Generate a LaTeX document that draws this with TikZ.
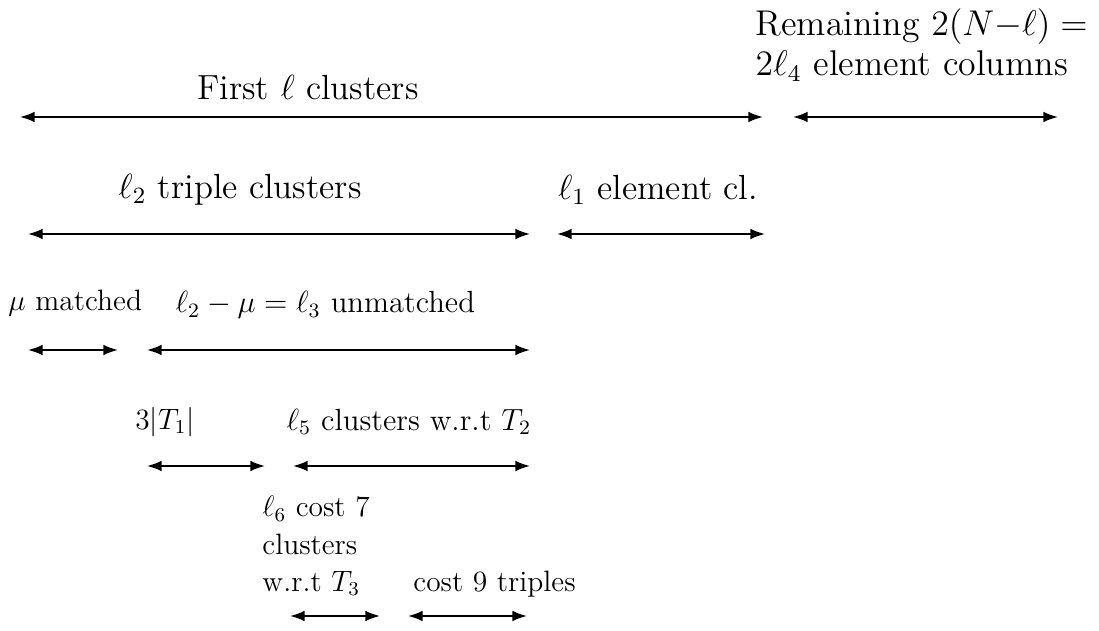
\documentclass[tikz,border=0pt]{standalone}
\usetikzlibrary{arrows.meta}
\begin{document}
\begin{tikzpicture}[x={(0.275pt,0)},y={(0,-0.275pt)},
  span/.style={{Latex[length=4pt,width=2.9pt]}-{Latex[length=4pt,width=2.9pt]}, line width=0.5pt},
  big/.style={inner sep=0pt, font=\fontsize{12}{15.7}\selectfont, scale=0.8, transform shape},
  small/.style={inner sep=0pt, font=\fontsize{12}{15.1}\selectfont, scale=0.675, transform shape}]
\useasboundingbox (0,0) rectangle (1099,631);
% row 1
\coordinate (a1) at (20,117); \coordinate (b1) at (763,117);
\coordinate (a2) at (793,117); \coordinate (b2) at (1058,117);
\draw[span] (a1) -- (b1);
\draw[span] (a2) -- (b2);
\node[big] (t1) at (308,88) {First $\ell$ clusters};
\node[big, scale=1.025, anchor=north west, align=left, font=\fontsize{12}{13.6}\selectfont] (t2) at (755,8) {Remaining $2(N{-}\ell)=$\\ $2\ell_4$ element columns};
% row 2
\coordinate (a3) at (28,234); \coordinate (b3) at (530,234);
\coordinate (a4) at (557,234); \coordinate (b4) at (765,234);
\draw[span] (a3) -- (b3);
\draw[span] (a4) -- (b4);
\node[big] (t3) at (240,190) {$\ell_2$ triple clusters};
\node[big] (t4) at (658,190) {$\ell_1$ element cl.};
% row 3
\coordinate (a5) at (28,350); \coordinate (b5) at (118,350);
\coordinate (a6) at (147,350); \coordinate (b6) at (530,350);
\draw[span] (a5) -- (b5);
\draw[span] (a6) -- (b6);
\node[small, anchor=west] (t5) at (8,303) {$\mu$ matched};
\node[small, scale=1.04, anchor=west] (t6) at (175,305) {$\ell_2-\mu=\ell_3$ unmatched};
% row 4
\coordinate (a7) at (147,466); \coordinate (b7) at (265,466);
\coordinate (a8) at (293,466); \coordinate (b8) at (530,466);
\draw[span] (a7) -- (b7);
\draw[span] (a8) -- (b8);
\node[small, anchor=west] (t7) at (135,422) {$3|T_1|$};
\node[small, scale=1.04, anchor=west] (t8) at (286,422) {$\ell_5$ clusters w.r.t $T_2$};
% row 5
\coordinate (a9) at (290,616); \coordinate (b9) at (380,616);
\coordinate (a10) at (408,616); \coordinate (b10) at (527,616);
\draw[span] (a9) -- (b9);
\draw[span] (a10) -- (b10);
\node[small, anchor=north west, align=left] (t9) at (262,496) {$\ell_6$ cost 7\\clusters\\w.r.t $T_3$};
\node[small, anchor=west] (t10) at (413,584) {cost 9 triples};
\end{tikzpicture}
\end{document}
